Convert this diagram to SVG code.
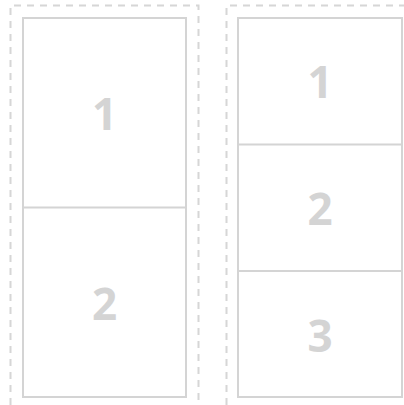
<svg xmlns="http://www.w3.org/2000/svg" width="404" height="405" viewBox="0 0 404 405">
<style>
.dash{fill:none;stroke:#d6d6d6;stroke-width:2;stroke-dasharray:7 6}
.box{fill:#fff;stroke:#d4d4d4;stroke-width:2}
.div{stroke:#d4d4d4;stroke-width:2}
.num{font-family:"Open Sans","DejaVu Sans",sans-serif;font-weight:bold;font-size:44px;fill:#d4d4d4;text-anchor:middle}
</style>
<rect width="404" height="405" fill="#fff"/>
<g id="frame-left">
<path class="dash" d="M10.5 405 V5.5 H198.5 V405"/>
</g>
<g id="frame-right">
<path class="dash" d="M226.5 405 V5.5 H404"/>
</g>
<g id="left-panel">
<rect class="box" x="23" y="18" width="163" height="379"/>
<line class="div" x1="23" y1="207.5" x2="186" y2="207.5"/>
</g>
<g id="left-1"><text class="num" x="104.5" y="130">1</text></g>
<g id="left-2"><text class="num" x="104.5" y="320">2</text></g>
<g id="right-panel">
<rect class="box" x="238" y="18" width="164" height="379"/>
<line class="div" x1="238" y1="144.5" x2="402" y2="144.5"/>
<line class="div" x1="238" y1="271" x2="402" y2="271"/>
</g>
<g id="right-1"><text class="num" x="320" y="98">1</text></g>
<g id="right-2"><text class="num" x="320" y="225">2</text></g>
<g id="right-3"><text class="num" x="320" y="352">3</text></g>
<g id="connectors"/>
</svg>
